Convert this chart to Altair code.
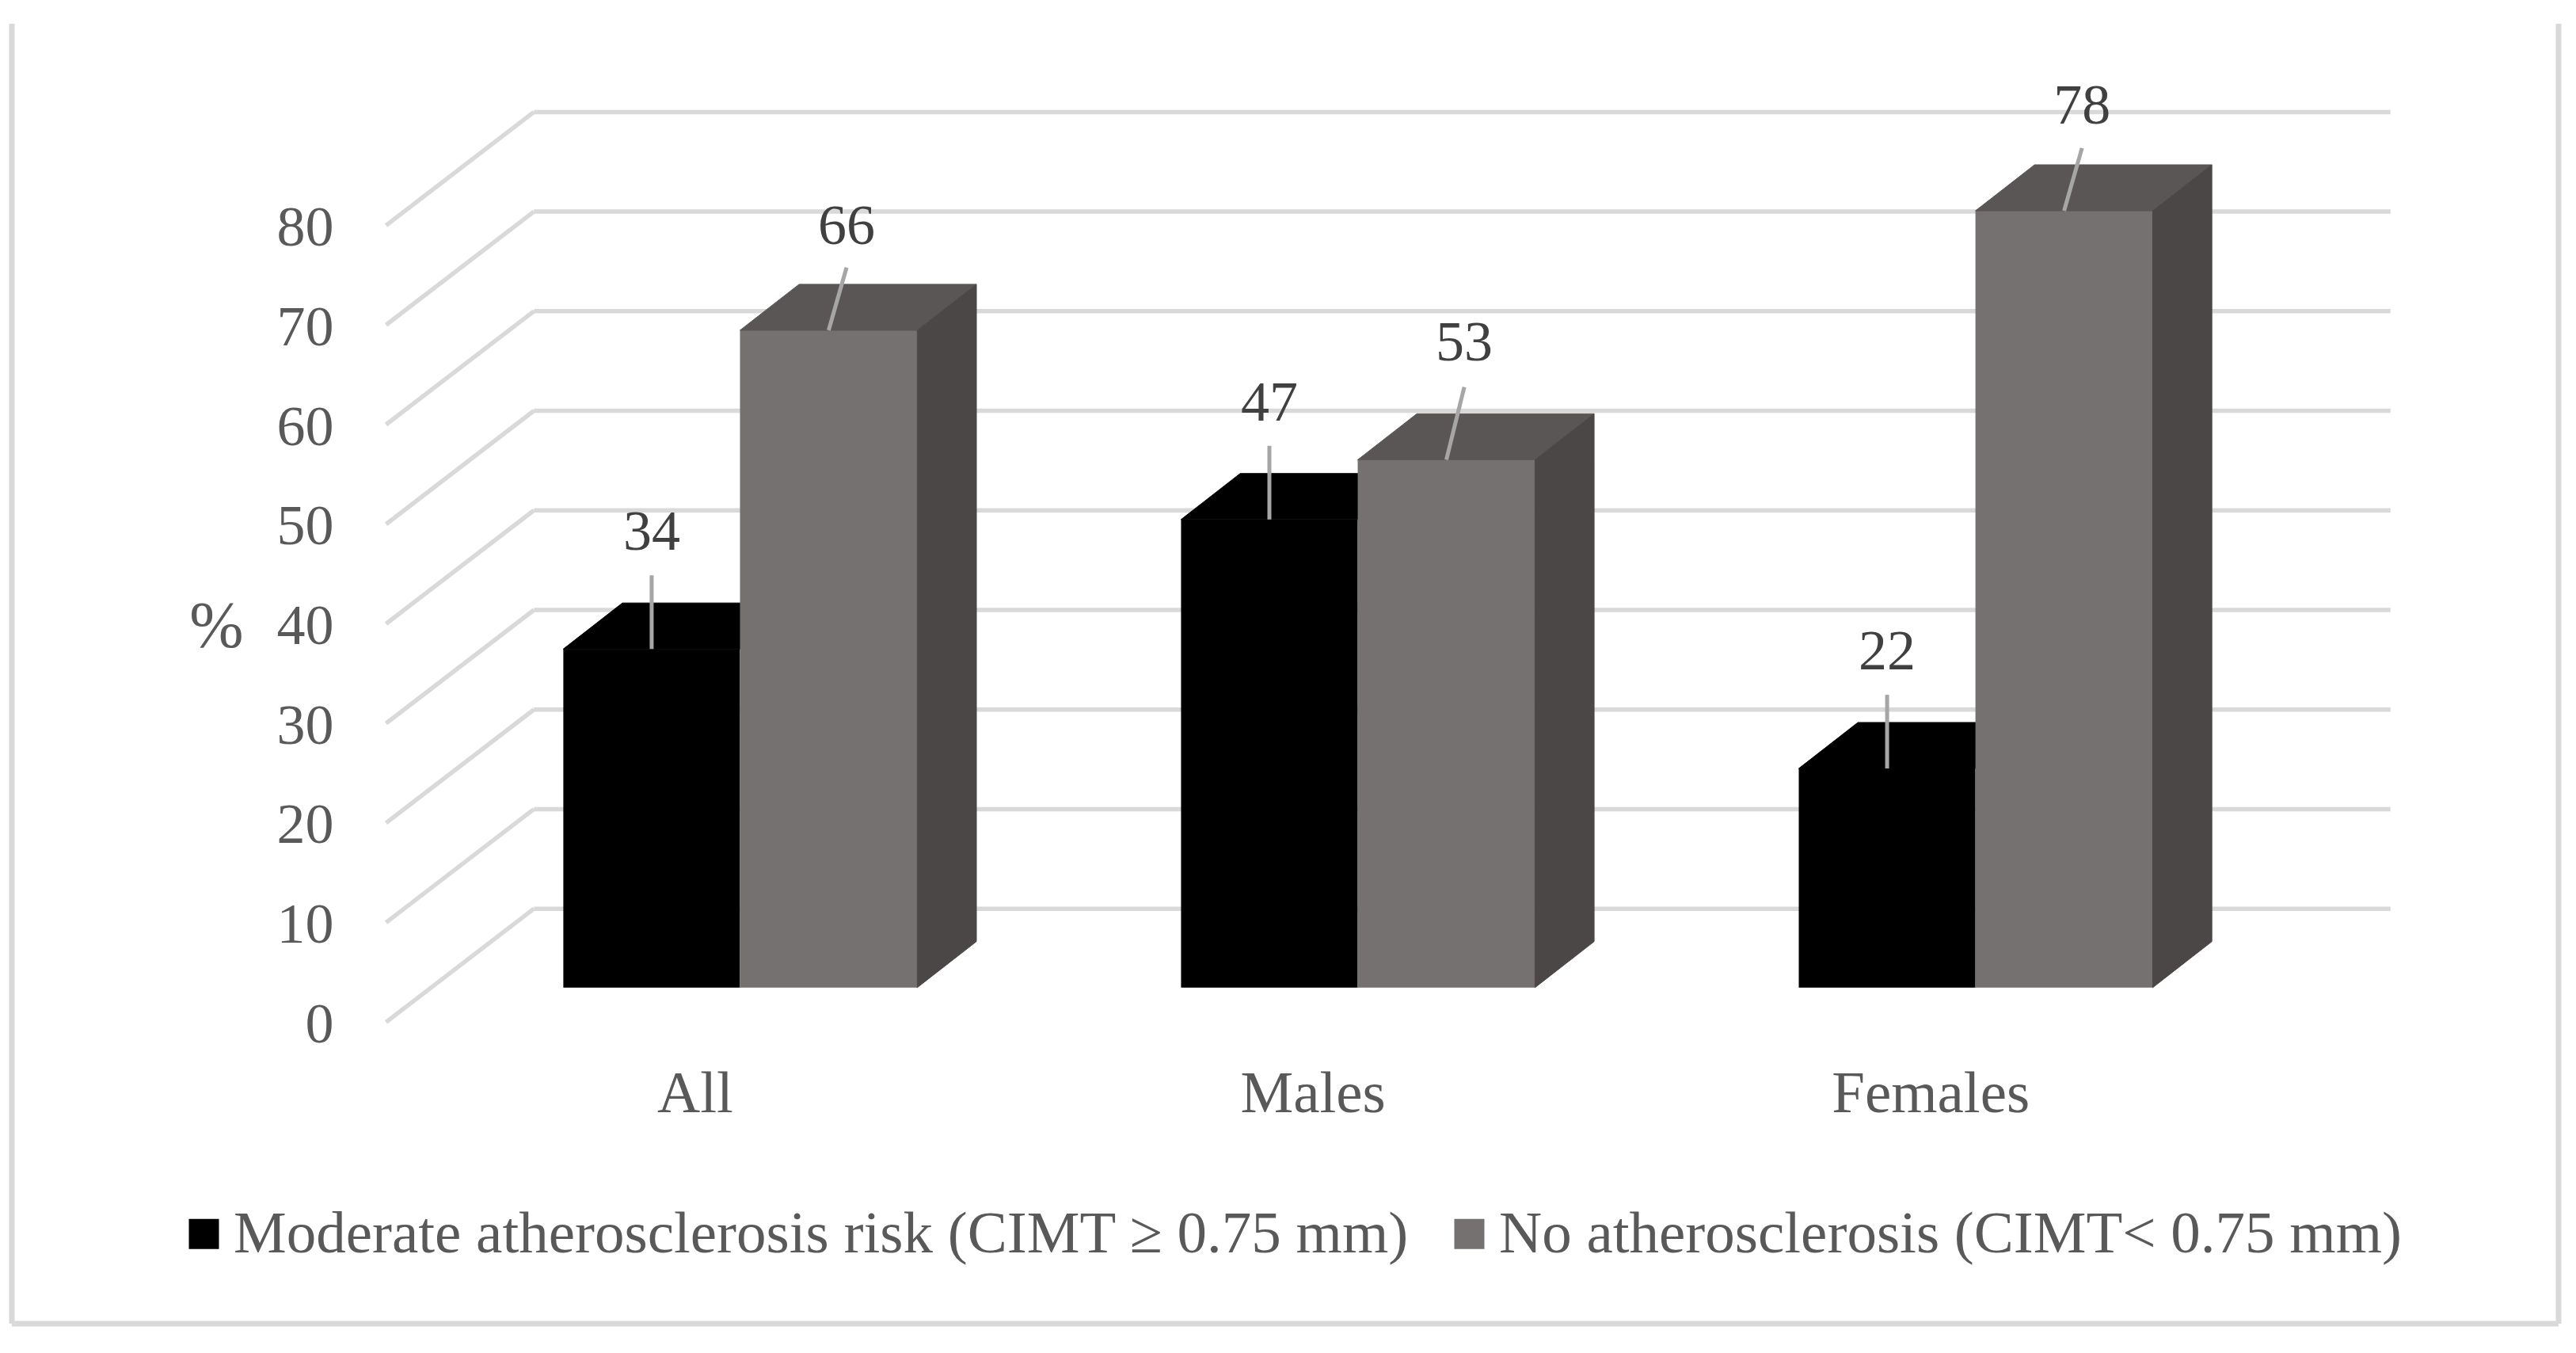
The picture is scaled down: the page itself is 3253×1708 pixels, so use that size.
import altair as alt
import pandas as pd

categories = ["All", "Males", "Females"]
series_a = "Moderate atherosclerosis risk (CIMT ≥ 0.75 mm)"
series_b = "No atherosclerosis (CIMT< 0.75 mm)"
values_a = [34, 47, 22]
values_b = [66, 53, 78]
grid_values = [0, 10, 20, 30, 40, 50, 60, 70, 80]
leader_a = [7.4, 7.4, 7.4]
leader_b = [6.3, 7.3, 6.3]
label_a = [11.7, 11.7, 11.7]
label_b = [10.4, 11.7, 10.5]

FONT = "Liberation Serif"
# pseudo-3D projection, in data units
FLOOR = 3.47      # lift of the bars' front plane above the front floor edge
BACK = 11.39      # lift of the back wall
DX, DY = 0.0957, 4.62   # bar depth
L, M, R = -0.213, 0.073, 0.36  # bar edges relative to the category label
WALL_L, WALL_B, WALL_R = -0.5, -0.2606, 2.745
X_DOM = [-1.1057, 3.017]
Y_DOM = [-30.28, 100.25]
WIDTH, HEIGHT = 3216, 1641

xs = alt.Scale(domain=X_DOM, nice=False, zero=False)
ys = alt.Scale(domain=Y_DOM, nice=False, zero=False)
X = alt.X("x:Q", scale=xs)
Y = alt.Y("y:Q", scale=ys)

front, top_rows, side_rows, leaders, labels = [], [], [], [], []
for i, cat in enumerate(categories):
    a, b = values_a[i], values_b[i]
    front.append(dict(series=series_a, x=i + L, x2=i + M, y=FLOOR, y2=a + FLOOR))
    front.append(dict(series=series_b, x=i + M, x2=i + R, y=FLOOR, y2=b + FLOOR))
    for name, v, x0, x1 in [("a", a, i + L, i + M), ("b", b, i + M, i + R)]:
        key = f"{name}{i}"
        top_rows.append(dict(key=key, s=name, y=v + FLOOR, x=x0, x2=x1))
        top_rows.append(dict(key=key, s=name, y=v + FLOOR + DY, x=x0 + DX, x2=x1 + DX))
    side_rows.append(dict(key=f"b{i}", x=i + R, y=b + FLOOR, y2=FLOOR))
    side_rows.append(dict(key=f"b{i}", x=i + R + DX, y=b + FLOOR + DY, y2=FLOOR + DY))
    ca = i + (L + M) / 2
    cb = i + (M + R) / 2
    leaders += [dict(key=f"a{i}", x=ca, y=a + FLOOR), dict(key=f"a{i}", x=ca, y=a + FLOOR + leader_a[i])]
    leaders += [dict(key=f"b{i}", x=cb, y=b + FLOOR), dict(key=f"b{i}", x=cb + 0.029, y=b + FLOOR + leader_b[i])]
    labels.append(dict(x=ca, y=a + FLOOR + label_a[i], t=str(a)))
    labels.append(dict(x=cb + 0.029, y=b + FLOOR + label_b[i], t=str(b)))

side_lines = []
for v in grid_values:
    side_lines.append(dict(v=v, x=WALL_L, y=v))
    side_lines.append(dict(v=v, x=WALL_B, y=v + BACK))
back_lines = pd.DataFrame(dict(y=[v + BACK for v in grid_values], x=WALL_B, x2=WALL_R))

GRID = "#d9d9d9"
G_W = 5.5

frame_rows = pd.DataFrame([
    dict(x=X_DOM[0], x2=X_DOM[0], y=Y_DOM[0], y2=Y_DOM[1]),
    dict(x=X_DOM[1], x2=X_DOM[1], y=Y_DOM[0], y2=Y_DOM[1]),
    dict(x=X_DOM[0], x2=X_DOM[1], y=Y_DOM[0], y2=Y_DOM[0]),
])
frame = alt.Chart(frame_rows).mark_rule(color=GRID, strokeWidth=7).encode(
    x=alt.X("x:Q", scale=xs, axis=alt.Axis(
        values=[0, 1, 2], labelExpr="['All','Males','Females'][datum.value]", title=None,
        domain=False, ticks=False, grid=False, offset=-291, labelPadding=0,
        labelFont=FONT, labelFontSize=75, labelColor="#595959", labelBaseline="middle",
        labelFlush=False, labelOverlap=False, labelAngle=0, labelLimit=1000)),
    x2="x2:Q",
    y=alt.Y("y:Q", scale=ys, axis=alt.Axis(
        values=grid_values, title="%", titleFont=FONT, titleFontSize=82, titleFontWeight="normal",
        titleColor="#595959", titleAngle=0, titleX=-148, titleY=760, titleAlign="center",
        titleBaseline="middle", domain=False, ticks=False, grid=False, offset=-406, labelPadding=0,
        labelFont=FONT, labelFontSize=72, labelColor="#595959", labelBaseline="middle",
        labelFlush=False, labelOverlap=False, labelOffset=3)),
    y2="y2:Q",
)
back = alt.Chart(back_lines).mark_rule(color=GRID, strokeWidth=G_W).encode(x=X, x2="x2:Q", y=Y)
side_grid = alt.Chart(pd.DataFrame(side_lines)).mark_line(color=GRID, strokeWidth=G_W).encode(x=X, y=Y, detail="v:N")

tops = pd.DataFrame(top_rows)
def top_layer(s, col):
    return alt.Chart(tops[tops.s == s]).mark_area(orient="horizontal", color=col, stroke=col, strokeWidth=1).encode(
        y=Y, x=X, x2="x2:Q", detail="key:N")

fronts = alt.Chart(pd.DataFrame(front)).mark_rect().encode(
    x=X, x2="x2:Q", y=Y, y2="y2:Q",
    color=alt.Color("series:N", scale=alt.Scale(domain=[series_a, series_b], range=["#000000", "#767171"]),
                    legend=alt.Legend(title=None, orient="none", legendX=205, legendY=1490, columns=2,
                                      symbolType="square", symbolSize=1444, symbolStrokeWidth=0,
                                      labelFont=FONT, labelFontSize=75, labelColor="#595959",
                                      labelLimit=3000, labelOffset=0, columnPadding=38)),
)
sides = alt.Chart(pd.DataFrame(side_rows)).mark_area(color="#4b4746", stroke="#4b4746", strokeWidth=1).encode(
    x=X, y=Y, y2="y2:Q", detail="key:N")
lead = alt.Chart(pd.DataFrame(leaders)).mark_line(color="#a6a6a6", strokeWidth=5).encode(x=X, y=Y, detail="key:N")
text = alt.Chart(pd.DataFrame(labels)).mark_text(font=FONT, fontSize=72, color="#404040", baseline="middle").encode(
    x=X, y=Y, text="t:N")

chart = alt.layer(frame, back, side_grid, top_layer("a", "#000000"), fronts, top_layer("b", "#5a5655"), sides, lead, text).properties(
    width=WIDTH, height=HEIGHT,
    autosize=alt.AutoSizeParams(type="none"),
    padding={"left": 7, "top": 22, "right": 14, "bottom": 20},
    background="#ffffff",
).configure_view(stroke=None)

chart.save("out.html", embed_options={"renderer": "svg", "actions": False})
